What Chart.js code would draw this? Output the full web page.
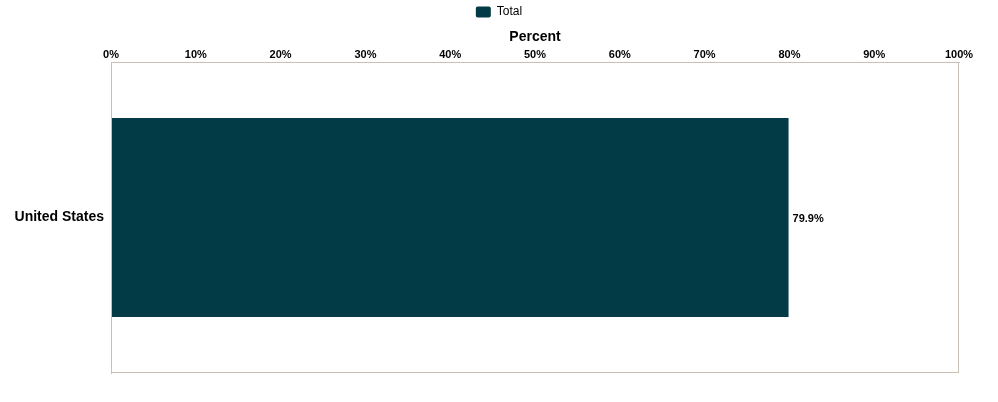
<!DOCTYPE html>
<html>
<head>
<meta charset="utf-8">
<script src="https://cdn.jsdelivr.net/npm/chart.js@4.4.0/dist/chart.umd.min.js"></script>
<style>
  html, body { margin: 0; padding: 0; background: #fff; }
  #wrap { width: 998px; height: 402px; position: relative; }
</style>
</head>
<body>
<div id="wrap"><canvas id="chart"></canvas></div>
<script>
const categories = ["United States"];
const totalValues = [79.9];
const seriesName = "Total";
const axisTitle = "Percent";

const barColor = "#023a45";
const frameColor = "#c9c0b6";
const fontFamily = "'Liberation Sans', Arial, sans-serif";

// draws the right/bottom edges of the plot frame and the value labels
const framePlugin = {
    id: "frame",
    afterDatasetsDraw(chart) {
        const { ctx, chartArea: a } = chart;
        ctx.save();
        ctx.strokeStyle = frameColor;
        ctx.lineWidth = 1;
        ctx.strokeRect(a.left + 0.5, a.top + 0.5, a.right - a.left - 1, a.bottom - a.top - 1);

        const meta = chart.getDatasetMeta(0);
        ctx.fillStyle = "#000";
        ctx.font = "bold 11px " + fontFamily;
        ctx.textAlign = "left";
        ctx.textBaseline = "middle";
        meta.data.forEach((bar, i) => {
            ctx.fillText(totalValues[i].toFixed(1) + "%", bar.x + 4, bar.y + 1);
        });
        ctx.restore();
    }
};

new Chart(document.getElementById("chart"), {
    type: "bar",
    data: {
        labels: categories,
        datasets: [{
            label: seriesName,
            data: totalValues,
            backgroundColor: barColor,
            borderWidth: 0,
            barPercentage: 0.8,
            categoryPercentage: 0.8
        }]
    },
    options: {
        indexAxis: "y",
        responsive: true,
        maintainAspectRatio: false,
        animation: false,
        layout: { padding: { left: 0, right: 0, top: 0, bottom: 29 } },
        plugins: {
            legend: {
                display: true,
                position: "top",
                labels: {
                    boxWidth: 15,
                    boxHeight: 11,
                    useBorderRadius: true,
                    borderRadius: 2,
                    color: "#000",
                    padding: 6,
                    font: { size: 12, family: fontFamily }
                }
            },
            tooltip: { enabled: false }
        },
        scales: {
            x: {
                position: "top",
                min: 0,
                max: 100,
                ticks: {
                    stepSize: 10,
                    padding: 0,
                    color: "#000",
                    font: { size: 11, weight: "bold", family: fontFamily },
                    callback: v => v + "%"
                },
                grid: { display: false, drawTicks: false },
                border: { display: true, color: "#d8bfa4" },
                title: {
                    display: true,
                    text: axisTitle,
                    color: "#000",
                    padding: { top: 1, bottom: 3 },
                    font: { size: 14, weight: "bold", family: fontFamily }
                }
            },
            y: {
                ticks: {
                    color: "#000",
                    padding: 7,
                    font: { size: 14, weight: "bold", family: fontFamily }
                },
                grid: { display: false, drawTicks: false },
                border: { display: true, color: frameColor },
                afterFit(scale) { scale.width = 111; }
            },
            // empty spacer on the right so the legend stays centred on the canvas
            yRight: {
                type: "linear",
                position: "right",
                ticks: { display: false },
                grid: { display: false, drawTicks: false },
                border: { display: false },
                afterFit(scale) { scale.width = 39; }
            }
        }
    },
    plugins: [framePlugin]
});
</script>
</body>
</html>
